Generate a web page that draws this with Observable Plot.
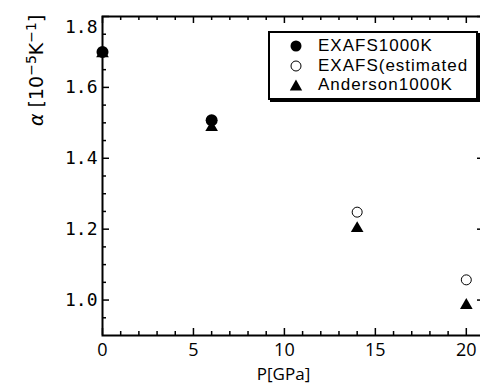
<!DOCTYPE html>
<html>
<head>
<meta charset="utf-8">
<script src="https://cdn.jsdelivr.net/npm/d3@7"></script>
<script src="https://cdn.jsdelivr.net/npm/@observablehq/plot@0.6"></script>
<style>
  html, body { margin: 0; padding: 0; background: #fff; }
  #wrap { position: relative; width: 480px; height: 389px; overflow: hidden; }
  #legend {
    position: absolute; left: 268px; top: 31px; width: 206px; height: 62px;
    border: 2px solid #000; background: #fff; box-shadow: 2px 2px 0 #000;
    font-family: "Liberation Sans", Arial, sans-serif; font-size: 17px; line-height: 19.5px;
    letter-spacing: 1px;
    box-sizing: content-box; overflow: hidden; white-space: nowrap;
  }
  #legend .row { position: relative; height: 19.5px; padding-left: 48px; }
  #legend .row span { display: inline-block; height: 19.5px; line-height: 19.5px; vertical-align: top; }
  #legend svg { position: absolute; left: 19px; top: 3px; }
</style>
</head>
<body>
<div id="wrap"></div>
<script>
// ---- data ----
const exafsP = [0, 6];
const exafsAlpha = [1.70, 1.507];
const estP = [14, 20];
const estAlpha = [1.248, 1.057];
const andersonP = [0, 6, 14, 20];
const andersonAlpha = [1.695, 1.487, 1.202, 0.985];

const xMajor = [0, 5, 10, 15, 20];
const xMinor = [1, 2, 3, 4, 6, 7, 8, 9, 11, 12, 13, 14, 16, 17, 18, 19, 21];
const yMajorLow = [1.0, 1.2, 1.4, 1.6];
const yMajorTop = [1.8];
const yMinor = [0.95, 1.05, 1.1, 1.15, 1.25, 1.3, 1.35, 1.45, 1.5, 1.55, 1.65, 1.7, 1.75];
const xLabel = "P[GPa]";
const yLabel = "α [10−5K−1]";
const legendLabels = ["EXAFS1000K", "EXAFS(estimated", "Anderson1000K"];

const exafs = exafsP.map((p, i) => ({p, a: exafsAlpha[i]}));
const est = estP.map((p, i) => ({p, a: estAlpha[i]}));
const anderson = andersonP.map((p, i) => ({p, a: andersonAlpha[i]}));

const W = 480, H = 389, mL = 102, mT = 16, mB = 54, mR = -4;
const plotH = H - mT - mB, plotW = W - mL - mR;
const majorLen = 7, minorLen = 4;
const tickFont = "'DejaVu Sans Mono', monospace";
const xFont = "'Open Sans', sans-serif";

const chart = Plot.plot({
  width: W, height: H,
  marginLeft: mL, marginTop: mT, marginBottom: mB, marginRight: mR,
  x: {domain: [0, 21]},
  y: {domain: [0.9, 1.8]},
  style: {background: "white", color: "black", overflow: "visible"},
  marks: [
    // ticks (inward)
    Plot.tickX(xMajor, {x: d => d, insetTop: plotH - majorLen, strokeWidth: 1.5}),
    Plot.tickX(xMinor, {x: d => d, insetTop: plotH - minorLen, strokeWidth: 1.5}),
    Plot.tickX(xMajor, {x: d => d, insetBottom: plotH - majorLen, strokeWidth: 1.5}),
    Plot.tickX(xMinor, {x: d => d, insetBottom: plotH - minorLen, strokeWidth: 1.5}),
    Plot.tickY([...yMajorLow, ...yMajorTop], {y: d => d, insetRight: plotW - majorLen, strokeWidth: 1.5}),
    Plot.tickY(yMinor, {y: d => d, insetRight: plotW - minorLen, strokeWidth: 1.5}),
    Plot.tickY([...yMajorLow, ...yMajorTop], {y: d => d, insetLeft: plotW - majorLen, strokeWidth: 1.5}),
    Plot.tickY(yMinor, {y: d => d, insetLeft: plotW - minorLen, strokeWidth: 1.5}),
    Plot.frame({stroke: "black", strokeWidth: 2}),
    // tick labels
    Plot.axisX(xMajor, {tickSize: 0, tickPadding: 8, label: null, fontSize: 18, fontFamily: xFont, tickFormat: d => String(d)}),
    Plot.axisY(yMajorLow, {tickSize: 0, tickPadding: 5, label: null, fontSize: 18, fontFamily: tickFont, tickFormat: d3.format(".1f")}),
    Plot.axisY(yMajorTop, {tickSize: 0, tickPadding: 5, label: null, fontSize: 18, fontFamily: tickFont, tickFormat: d3.format(".1f"), dy: 11}),
    // axis titles
    Plot.text([xLabel], {text: d => d, frameAnchor: "bottom", dx: -10, dy: 44, fontSize: 17, fontFamily: xFont}),
    Plot.text([yLabel], {text: d => d, frameAnchor: "left", rotate: -90, dx: -66, dy: -50, fontSize: 19, fontFamily: "'DejaVu Sans', sans-serif"}),
    // data
    Plot.dot(anderson, {x: "p", y: "a", symbol: "triangle", r: 4.7, fill: "black", stroke: "none"}),
    Plot.dot(est, {x: "p", y: "a", symbol: "circle", r: 5, fill: "white", stroke: "black", strokeWidth: 1}),
    Plot.dot(exafs, {x: "p", y: "a", symbol: "circle", r: 6, fill: "black", stroke: "none"})
  ]
});

const wrap = document.getElementById("wrap");
wrap.appendChild(chart);

// typeset superscripts in the y-axis title (keeps it as real text)
d3.select(chart).selectAll("text").each(function () {
  if (this.textContent === yLabel) {
    const t = d3.select(this);
    t.text(null);
    t.append("tspan").attr("font-style", "italic").text("α");
    t.append("tspan").text(" [10");
    t.append("tspan").attr("dy", "-7").attr("font-size", 14).text("−5");
    t.append("tspan").attr("dy", "7").text("K");
    t.append("tspan").attr("dy", "-7").attr("font-size", 14).text("−1");
    t.append("tspan").attr("dy", "7").text("]");
  }
});

// legend
const legend = document.createElement("div");
legend.id = "legend";
const markers = [
  '<svg width="14" height="14"><circle cx="7" cy="7" r="5.5" fill="black"/></svg>',
  '<svg width="14" height="14"><circle cx="7" cy="7" r="5" fill="white" stroke="black" stroke-width="1"/></svg>',
  '<svg width="14" height="14"><path d="M7,1.5L13.2,12.5L0.8,12.5Z" fill="black"/></svg>'
];
legend.style.paddingTop = "3px";
legendLabels.forEach((lab, i) => {
  const row = document.createElement("div");
  row.className = "row";
  row.innerHTML = markers[i];
  const span = document.createElement("span");
  span.textContent = lab;
  row.appendChild(span);
  legend.appendChild(row);
});
wrap.appendChild(legend);
</script>
</body>
</html>
